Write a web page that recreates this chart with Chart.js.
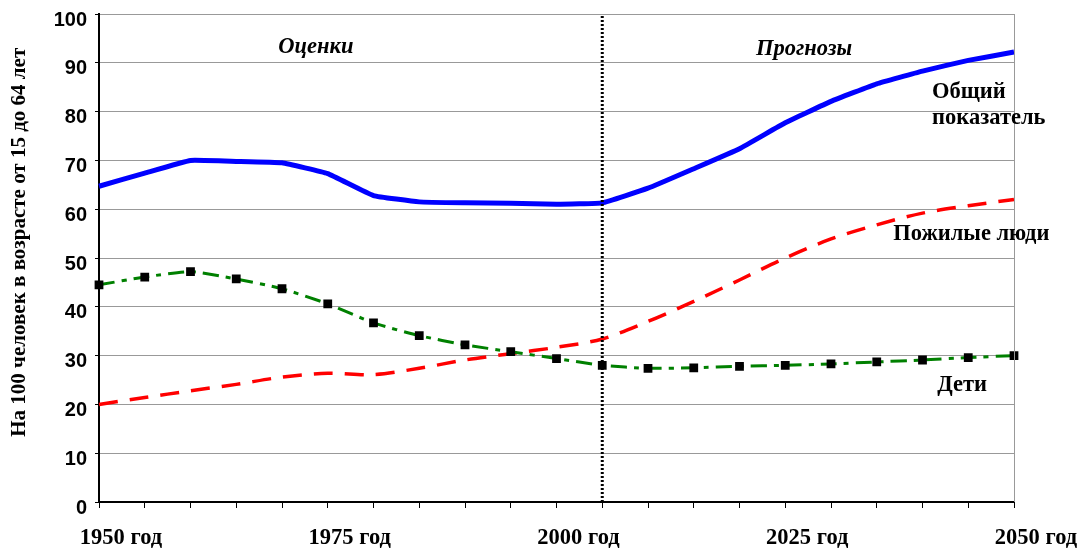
<!DOCTYPE html>
<html><head><meta charset="utf-8">
<script src="https://cdn.jsdelivr.net/npm/chart.js@4/dist/chart.umd.min.js"></script>
<style>html,body{margin:0;padding:0;background:#fff;}#wrap{width:1079px;height:549px;position:relative;}</style>
</head><body><div id="wrap"><canvas id="c"></canvas></div>
<script>
const years = ['1950','1955','1960','1965','1970','1975','1980','1985','1990','1995','2000','2005','2010','2015','2020','2025','2030','2035','2040','2045','2050'];
const totalRatio   = [64.7,67.4,70.0,69.8,69.5,67.3,62.8,61.5,61.3,61.2,61.0,61.3,64.3,68.3,72.4,77.7,82.1,85.7,88.3,90.5,92.2];
const elderlyRatio = [20.0,21.4,22.8,24.1,25.6,26.4,26.1,27.4,29.1,30.4,31.7,33.4,37.0,41.1,45.5,50.0,53.9,56.8,59.2,60.7,62.0];
const childRatio   = [44.5,46.1,47.2,45.7,43.7,40.6,36.7,34.1,32.2,30.8,29.4,28.0,27.4,27.5,27.8,28.0,28.3,28.7,29.1,29.6,30.0];
const seriesNames = ['Общий показатель','Пожилые люди','Дети'];
const xTickYears  = ['1950','1975','2000','2025','2050'];
const xTickLabels = ['1950 год','1975 год','2000 год','2025 год','2050 год'];
const yMin = 0, yMax = 100, yStep = 10;
const yAxisTitle = 'На 100 человек в возрасте от 15 до 64 лет';
const periodLabels = ['Оценки','Прогнозы'];
const dividerYear = '2005';

const annotPlugin = {
  id: 'annot',
  afterDraw(chart, args, opts) {
    const ctx = chart.ctx, xs = chart.scales.x, ys = chart.scales.y, a = chart.chartArea;
    ctx.save();
    ctx.strokeStyle = '#999'; ctx.lineWidth = 1;
    ctx.beginPath(); ctx.moveTo(a.right + 0.5, a.top); ctx.lineTo(a.right + 0.5, a.bottom); ctx.stroke();
    ctx.fillStyle = '#000';
    ctx.textBaseline = 'middle';
    for (const n of opts.notes) {
      ctx.font = n.font;
      ctx.textAlign = n.align;
      ctx.fillText(n.text, xs.getPixelForValue(n.x), ys.getPixelForValue(n.y));
    }
    ctx.restore();
  }
};

const noteFont = 'bold 22.5px "Liberation Serif"';
const noteItalic = 'bold italic 22.5px "Liberation Serif"';

new Chart(document.getElementById('c'), {
  type: 'line',
  data: {
    labels: years,
    datasets: [
      { label: seriesNames[2], data: childRatio, borderColor: '#008000', borderWidth: 3,
        borderDash: [16, 7, 5, 7], tension: 0.2, pointStyle: 'rect', pointRadius: 6.2,
        pointBackgroundColor: '#000', pointBorderColor: '#000', pointBorderWidth: 0, order: 0 },
      { label: 'divider', data: [{x: dividerYear, y: yMin}, {x: dividerYear, y: yMax}],
        borderColor: '#000', borderWidth: 3, borderDash: [2, 2], pointRadius: 0, order: 1 },
      { label: seriesNames[0], data: totalRatio, borderColor: '#0000FF', borderWidth: 5,
        tension: 0.1, pointRadius: 0, order: 2 },
      { label: seriesNames[1], data: elderlyRatio, borderColor: '#FF0000', borderWidth: 3.5,
        borderDash: [19, 12], tension: 0.3, pointRadius: 0, order: 3 }
    ]
  },
  options: {
    responsive: true, maintainAspectRatio: false, animation: false, devicePixelRatio: 1,
    layout: { padding: { top: 14, right: 65, left: 0, bottom: 0 } },
    plugins: {
      legend: { display: false }, tooltip: { enabled: false },
      annot: { notes: [
        { text: periodLabels[0], x: 4.74, y: 93.1, align: 'center', font: noteItalic },
        { text: periodLabels[1], x: 15.41, y: 92.7, align: 'center', font: noteItalic },
        { text: 'Общий', x: 18.21, y: 84.0, align: 'left', font: noteFont },
        { text: 'показатель', x: 18.21, y: 78.7, align: 'left', font: noteFont },
        { text: seriesNames[1], x: 17.36, y: 54.8, align: 'left', font: noteFont },
        { text: seriesNames[2], x: 18.32, y: 24.0, align: 'left', font: noteFont }
      ] }
    },
    scales: {
      x: {
        type: 'category', offset: false,
        afterFit(s) { s.height = 47; s.paddingLeft = 0; s.paddingRight = 0; },
        grid: { drawOnChartArea: false, drawTicks: true, tickLength: 6, color: '#000', lineWidth: 1 },
        border: { color: '#000', width: 2 },
        ticks: {
          autoSkip: false, maxRotation: 0, minRotation: 0, labelOffset: 22, padding: 17, color: '#000',
          font: { family: '"Liberation Serif"', size: 22.5, weight: 'bold' },
          callback(v, i) { const k = xTickYears.indexOf(years[i]); return k >= 0 ? xTickLabels[k] : ''; }
        }
      },
      y: {
        min: yMin, max: yMax,
        afterFit(s) { s.width = 99; s.paddingTop = 0; s.paddingBottom = 0; },
        grid: { color: '#999', lineWidth: 1, tickColor: '#000', tickLength: 4 },
        border: { color: '#000', width: 2 },
        ticks: { stepSize: yStep, padding: 8, labelOffset: 6, color: '#000',
          font: { family: '"Liberation Sans"', size: 20, weight: 'bold' } },
        title: { display: true, text: '\u00A0'.repeat(6) + yAxisTitle, color: '#000',
          font: { family: '"Liberation Serif"', size: 21, weight: 'bold' }, padding: { top: 7, bottom: 0 } }
      }
    }
  },
  plugins: [annotPlugin]
});
</script></body></html>
